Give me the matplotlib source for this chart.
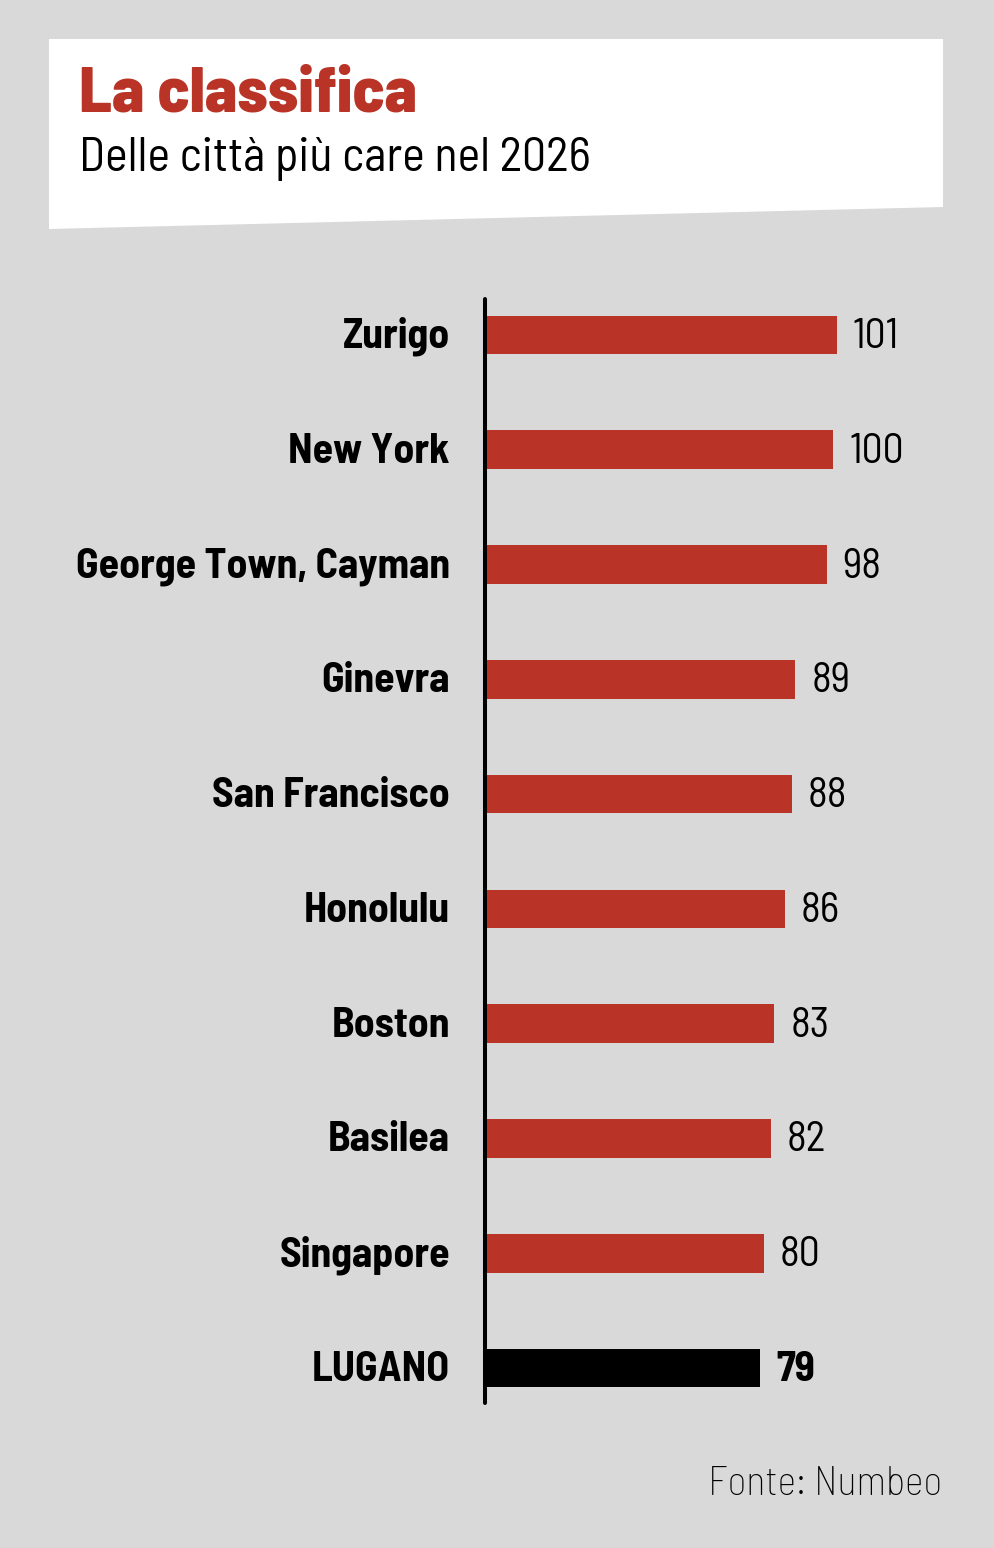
import matplotlib
matplotlib.use("Agg")
import matplotlib.pyplot as plt
from matplotlib.patches import Polygon
from matplotlib.transforms import offset_copy

# dati
cities = ["Zurigo", "New York", "George Town, Cayman", "Ginevra", "San Francisco",
          "Honolulu", "Boston", "Basilea", "Singapore", "LUGANO"]
values = [101, 100, 98, 89, 88, 86, 83, 82, 80, 79]
highlight = "LUGANO"

title = "La classifica"
subtitle = "Delle città più care nel 2026"
source = "Fonte: Numbeo"

FONT = ["Barlow Semi Condensed", "Barlow Condensed", "Roboto Condensed", "DejaVu Sans"]
RED = "#b93427"
BG = "#d9d9d9"

plt.rcParams["font.family"] = FONT

W, H = 994, 1548
fig = plt.figure(figsize=(W / 100, H / 100), dpi=100, facecolor=BG)

# fondo in pixel per box titolo e testi
bg = fig.add_axes([0, 0, 1, 1])
bg.set_xlim(0, W)
bg.set_ylim(H, 0)
bg.axis("off")
bg.add_patch(Polygon([(49, 39), (943, 39), (943, 207), (49, 229)],
                     closed=True, facecolor="white", edgecolor="none"))
bg.text(79, 112, title, color=RED, fontsize=47, fontweight=800, va="baseline")
bg.text(79, 171, subtitle, color="black", fontsize=34.5, fontweight="normal", va="baseline")
bg.text(942, 1495, source, color="black", fontsize=29, fontweight="light",
        ha="right", va="baseline")

# grafico a barre
left, right, top, bottom = 485, 943, 297, 1405
ax = fig.add_axes([left / W, 1 - bottom / H, (right - left) / W, (bottom - top) / H])
ax.set_facecolor("none")
step = 114.78
unit = 3.485
ax.set_xlim(0, (right - left) / unit)
ax.set_ylim(len(cities) - 1 + (bottom - 1368) / step, -(335 - top) / step)

pos = list(range(len(cities)))
colors = ["black" if c == highlight else RED for c in cities]
ax.barh(pos, values, height=38.7 / step, color=colors, edgecolor="none")

ax.plot([0, 0], [ax.get_ylim()[0] - 0.02, ax.get_ylim()[1] + 0.02], color="black",
        lw=2.9, solid_capstyle="round", clip_on=False)

lab_tr = offset_copy(ax.transData, fig=fig, x=-35, y=-13, units="dots")
val_tr = offset_copy(ax.transData, fig=fig, x=16, y=-13, units="dots")
for p, c, v in zip(pos, cities, values):
    ax.text(0, p, c, transform=lab_tr, ha="right", va="baseline",
            fontsize=30, fontweight="bold", color="black")
    ax.text(v, p, str(v), transform=val_tr, ha="left", va="baseline",
            fontsize=30, fontweight="bold" if c == highlight else "normal", color="black")

ax.axis("off")

fig.savefig("out.png", dpi=100, facecolor=BG)
